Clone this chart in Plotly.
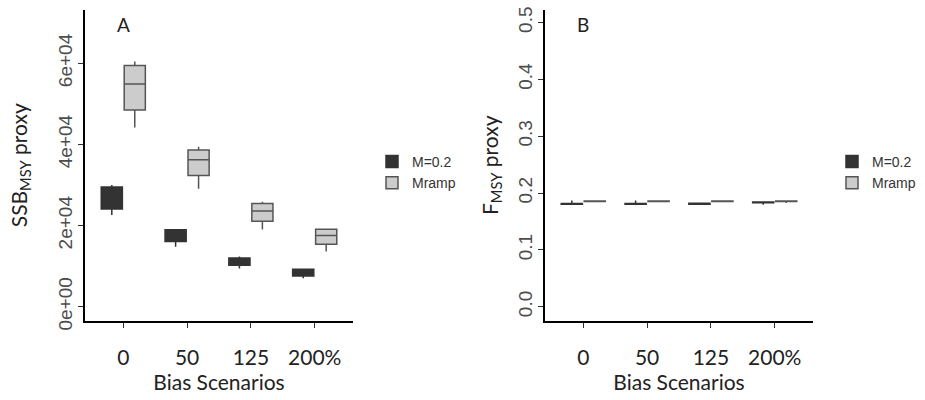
import plotly.graph_objects as go

categories = ["0", "50", "125", "200%"]

# Panel A: SSB_MSY proxy (box stats)
ssb_m02_low = [22600, 14800, 9400, 7000]
ssb_m02_q1 = [24050, 16050, 10220, 7580]
ssb_m02_med = [26000, 17200, 11000, 8300]
ssb_m02_q3 = [29480, 18940, 12020, 9230]
ssb_m02_up = [29970, 18940, 12350, 9230]

ssb_mr_low = [44200, 29100, 19000, 13600]
ssb_mr_q1 = [48500, 32350, 21080, 15400]
ssb_mr_med = [54900, 36200, 23560, 17530]
ssb_mr_q3 = [59430, 38620, 25430, 19110]
ssb_mr_up = [60420, 39430, 25850, 19110]

# Panel B: F_MSY proxy (box stats)
f_m02_low = [0.1805, 0.1805, 0.1805, 0.1795]
f_m02_q1 = [0.1805, 0.1805, 0.1805, 0.1830]
f_m02_med = [0.1812, 0.1812, 0.1812, 0.1838]
f_m02_q3 = [0.1818, 0.1818, 0.1822, 0.1845]
f_m02_up = [0.1870, 0.1870, 0.1822, 0.1845]

f_mr_low = [0.1852, 0.1852, 0.1852, 0.1825]
f_mr_q1 = [0.1852, 0.1852, 0.1852, 0.1852]
f_mr_med = [0.1858, 0.1858, 0.1858, 0.1858]
f_mr_q3 = [0.1862, 0.1862, 0.1862, 0.1862]
f_mr_up = [0.1862, 0.1862, 0.1862, 0.1862]

DARK_FILL = "#333333"
DARK_LINE = "#333333"
LIGHT_FILL = "#cccccc"
LIGHT_LINE = "#555555"

fig = go.Figure()

def add_box(name, low, q1, med, q3, up, fill, line, xa, ya, legend, group):
    fig.add_trace(go.Box(
        name=name, x=categories, lowerfence=low, q1=q1, median=med, q3=q3,
        upperfence=up, fillcolor=fill, line=dict(color=line, width=1.5),
        whiskerwidth=0, xaxis=xa, yaxis=ya, legend=legend, showlegend=True,
        alignmentgroup=group, offsetgroup=name,
        boxpoints=False, hoverinfo="skip"))

add_box("M=0.2", ssb_m02_low, ssb_m02_q1, ssb_m02_med, ssb_m02_q3, ssb_m02_up,
        DARK_FILL, DARK_LINE, "x", "y", "legend", "A")
add_box("Mramp", ssb_mr_low, ssb_mr_q1, ssb_mr_med, ssb_mr_q3, ssb_mr_up,
        LIGHT_FILL, LIGHT_LINE, "x", "y", "legend", "A")
add_box("M=0.2", f_m02_low, f_m02_q1, f_m02_med, f_m02_q3, f_m02_up,
        DARK_FILL, DARK_LINE, "x2", "y2", "legend2", "B")
add_box("Mramp", f_mr_low, f_mr_q1, f_mr_med, f_mr_q3, f_mr_up,
        LIGHT_FILL, LIGHT_LINE, "x2", "y2", "legend2", "B")

W, H = 925, 400
ydom = [(H - 321) / H, (H - 9.5) / H]
tickfont_num = dict(family="Liberation Sans, Arial", size=19, color="#4d4d4d")
tickfont_cat = dict(family="Lato, Open Sans", size=21, color="#222222")
titlefont = dict(family="Lato, Open Sans", size=21, color="#222222")

xcommon = dict(type="category", range=[-0.6, 3.6], showline=True, linecolor="black",
               linewidth=2, ticks="outside", ticklen=5, tickcolor="#333333",
               tickfont=tickfont_cat, showgrid=False, zeroline=False,
               ticklabelstandoff=12, automargin=False,
               title=dict(text="Bias Scenarios", font=titlefont, standoff=6))
ycommon = dict(showline=True, linecolor="black", linewidth=2, ticks="outside",
               ticklen=5, tickcolor="#333333", tickfont=tickfont_num, tickangle=-90,
               showgrid=False, zeroline=False, domain=ydom, automargin=False,
               ticklabelstandoff=-2)

leg_font = dict(family="Liberation Sans, Arial", size=14, color="#333333")

fig.update_layout(
    width=W, height=H, margin=dict(l=0, r=0, t=0, b=0),
    paper_bgcolor="white", plot_bgcolor="white",
    boxmode="group", boxgap=0.28, boxgroupgap=0.08,
    xaxis=dict(domain=[85 / W, 353 / W], anchor="y", **xcommon),
    yaxis=dict(anchor="x", range=[-3530, 73260], tickvals=[0, 20000, 40000, 60000],
               ticktext=["0e+00", "2e+04", "4e+04", "6e+04"],
               title=dict(text="SSB<sub>MSY</sub> proxy", font=titlefont, standoff=22),
               **ycommon),
    xaxis2=dict(domain=[545 / W, 813 / W], anchor="y2", **xcommon),
    yaxis2=dict(anchor="x2", range=[-0.025, 0.523], tickvals=[0, 0.1, 0.2, 0.3, 0.4, 0.5],
                ticktext=["0.0", "0.1", "0.2", "0.3", "0.4", "0.5"],
                title=dict(text="F<sub>MSY</sub> proxy", font=titlefont, standoff=11),
                **ycommon),
    legend=dict(x=372 / W, y=(H - 146) / H, xanchor="left", yanchor="top",
                font=leg_font, bgcolor="rgba(0,0,0,0)", tracegroupgap=0),
    legend2=dict(x=832 / W, y=(H - 146) / H, xanchor="left", yanchor="top",
                 font=leg_font, bgcolor="rgba(0,0,0,0)", tracegroupgap=0),
    annotations=[
        dict(text="A", x=123 / W, y=(H - 24) / H, xref="paper", yref="paper",
             xanchor="center", yanchor="middle", showarrow=False,
             font=dict(family="Lato, Open Sans", size=19, color="#222222")),
        dict(text="B", x=583 / W, y=(H - 24) / H, xref="paper", yref="paper",
             xanchor="center", yanchor="middle", showarrow=False,
             font=dict(family="Lato, Open Sans", size=19, color="#222222")),
    ],
)

fig.write_html("out.html")
